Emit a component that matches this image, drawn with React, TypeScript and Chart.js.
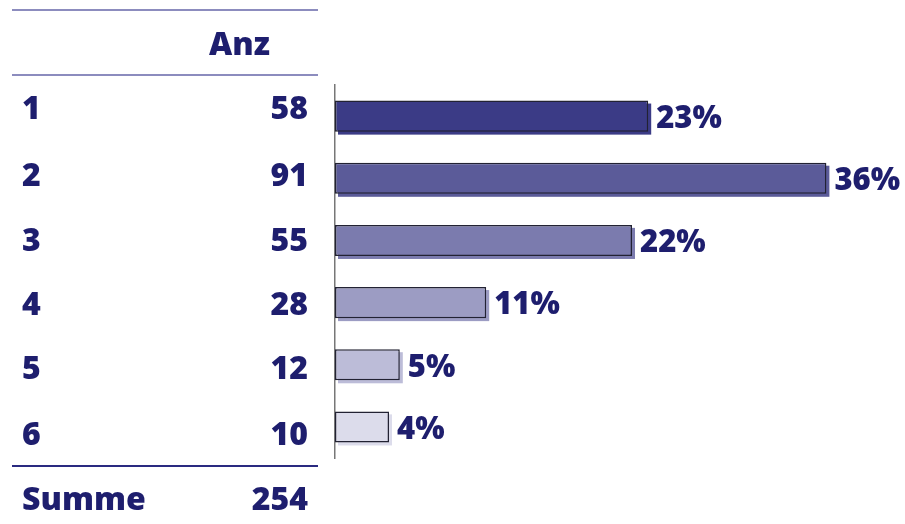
import React, { useEffect, useRef } from "react";
import { Chart, registerables } from "chart.js";

Chart.register(...registerables);

const categories = ["1", "2", "3", "4", "5", "6"];
const counts = [58, 91, 55, 28, 12, 10];
const headerLabel = "Anz";
const sumLabel = "Summe";
const barColors = ["#3b3b86", "#5b5b99", "#7b7bae", "#9c9cc3", "#bcbcd8", "#dcdceb"];
const rowCenters = [108, 175, 240, 304, 368, 434];

const TEXT = "#1e1e6e";
const FONT = "'Open Sans', 'DejaVu Sans', sans-serif";

const total = counts.reduce((a, b) => a + b, 0);
const percentLabels = counts.map((c) => Math.round((c / total) * 100) + "%");

const shadowPlugin = {
  id: "barShadow",
  beforeDatasetsDraw(chart: any) {
    const ctx = chart.ctx;
    const meta = chart.getDatasetMeta(0);
    ctx.save();
    meta.data.forEach((el: any, i: number) => {
      const { x, y, base, height } = el.getProps(["x", "y", "base", "height"], true);
      ctx.fillStyle = barColors[i];
      ctx.fillRect(base + 3, y - height / 2 + 3, x - base, height);
    });
    ctx.restore();
  },
  afterDatasetsDraw(chart: any) {
    const ctx = chart.ctx;
    const meta = chart.getDatasetMeta(0);
    ctx.save();
    ctx.fillStyle = TEXT;
    ctx.font = "800 31px " + FONT;
    ctx.textAlign = "left";
    ctx.textBaseline = "middle";
    meta.data.forEach((el: any, i: number) => {
      const { x, y } = el.getProps(["x", "y"], true);
      ctx.fillText(percentLabels[i], x + 8, y + 3);
    });
    ctx.restore();
  },
};

function Table() {
  const txt = (s: string, top: number, style: any) => (
    <div
      key={s + top + (style.left ?? style.right)}
      style={{
        position: "absolute",
        top: top - 17,
        fontFamily: FONT,
        fontWeight: 800,
        fontSize: 32,
        lineHeight: "32px",
        color: TEXT,
        whiteSpace: "nowrap",
        ...style,
      }}
    >
      {s}
    </div>
  );
  const line = (top: number, color: string) => (
    <div
      key={"l" + top}
      style={{ position: "absolute", left: 12, width: 306, top: top - 1, height: 2, background: color }}
    />
  );
  return (
    <>
      {line(10, "#8c8cbe")}
      {line(75, "#8c8cbe")}
      {line(466, "#2a2a80")}
      {txt(headerLabel, 43.5, { right: 905 - 270 })}
      {categories.map((c, i) => txt(c, rowCenters[i], { left: 22 }))}
      {counts.map((v, i) => txt(String(v), rowCenters[i], { right: 905 - 308 }))}
      {txt(sumLabel, 498.5, { left: 22 })}
      {txt(String(total), 498.5, { right: 905 - 308 })}
    </>
  );
}

export default function App() {
  const ref = useRef<HTMLCanvasElement>(null);
  useEffect(() => {
    const chart = new Chart(ref.current!, {
      type: "bar",
      data: {
        labels: categories,
        datasets: [
          {
            data: counts,
            backgroundColor: barColors,
            borderColor: "#222233",
            borderWidth: 1.5,
            borderSkipped: false,
            barPercentage: 0.5,
            categoryPercentage: 1,
          },
        ],
      },
      options: {
        indexAxis: "y",
        responsive: false,
        animation: false,
        layout: { padding: { left: 335, top: 85, right: 30, bottom: 66 } },
        plugins: { legend: { display: false }, tooltip: { enabled: false } },
        scales: {
          x: { display: false, min: 0, max: 100 },
          y: {
            display: true,
            grid: { display: false, drawTicks: false },
            ticks: { display: false },
            border: { display: true, color: "#777777", width: 1.5 },
          },
        },
      },
      plugins: [shadowPlugin],
    });
    return () => chart.destroy();
  }, []);
  return (
    <div style={{ position: "fixed", left: 0, top: 0, width: 905, height: 524, background: "#fff" }}>
      <canvas ref={ref} width={905} height={524} style={{ position: "absolute", left: 0, top: 0 }} />
      <Table />
    </div>
  );
}
